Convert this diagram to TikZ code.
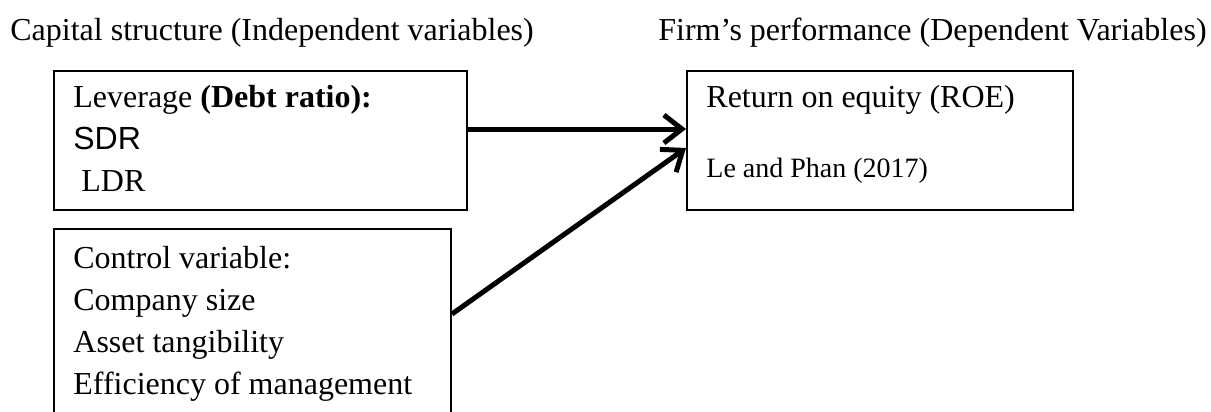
\documentclass[tikz,border=0pt]{standalone}
\usepackage{fontspec}
\setmainfont{Liberation Serif}
\newfontfamily\sdrfont{Liberation Sans}
\usetikzlibrary{positioning,arrows.meta}

\begin{document}
\begin{tikzpicture}[x=0.5pt, y=-0.5pt,
    box/.style={draw, line width=1pt, rectangle, anchor=north west, inner sep=0pt},
    txt/.style={anchor=north west, align=left, inner sep=0pt, font=\fontsize{16}{21}\selectfont},
    link/.style={-{Straight Barb[length=9pt, width=14pt, line width=2.5pt]}, line width=2.5pt}]

% Define a variable for the box heights
\def\boxheight{69.5pt}
\def\boxtop{70}
\def\up{\rule{0pt}{12pt}}

\useasboundingbox (0,0) rectangle (1211,412);

% Headings
\node[txt] (capital) at (10,16) {\up Capital structure (Independent variables)};
\node[txt] (firm) at (658,16) {\up Firm’s performance (Dependent Variables)};

% Boxes
\node[box, minimum width=206.5pt, minimum height=\boxheight] (lev) at (53,\boxtop) {};
\node[box, minimum width=198.5pt, minimum height=106pt] (ctrl) at (53,228) {};
\node[box, minimum width=193pt, minimum height=\boxheight] (roe) at (686,\boxtop) {};

% Box texts
\node[txt] (levtext) at (73,83) {\up Leverage \textbf{(Debt ratio):}\\{\sdrfont SDR}\\ \ LDR};
\node[txt] (ctrltext) at (73,244) {\up Control variable:\\Company size\\Asset tangibility\\Efficiency of management};
\node[txt] (roetext) at (706,83) {\up Return on equity (ROE)};
\node[txt, font=\fontsize{14}{18}\selectfont] (roesrc) at (706,153) {\up Le and Phan (2017)};

% Connections to performance
\draw[link] ([yshift=5.75pt]lev.east) -- ([yshift=5.75pt]roe.west);
\draw[link] ([yshift=10.5pt]ctrl.east) -- ([yshift=-3.75pt]roe.west);

\end{tikzpicture}
\end{document}
